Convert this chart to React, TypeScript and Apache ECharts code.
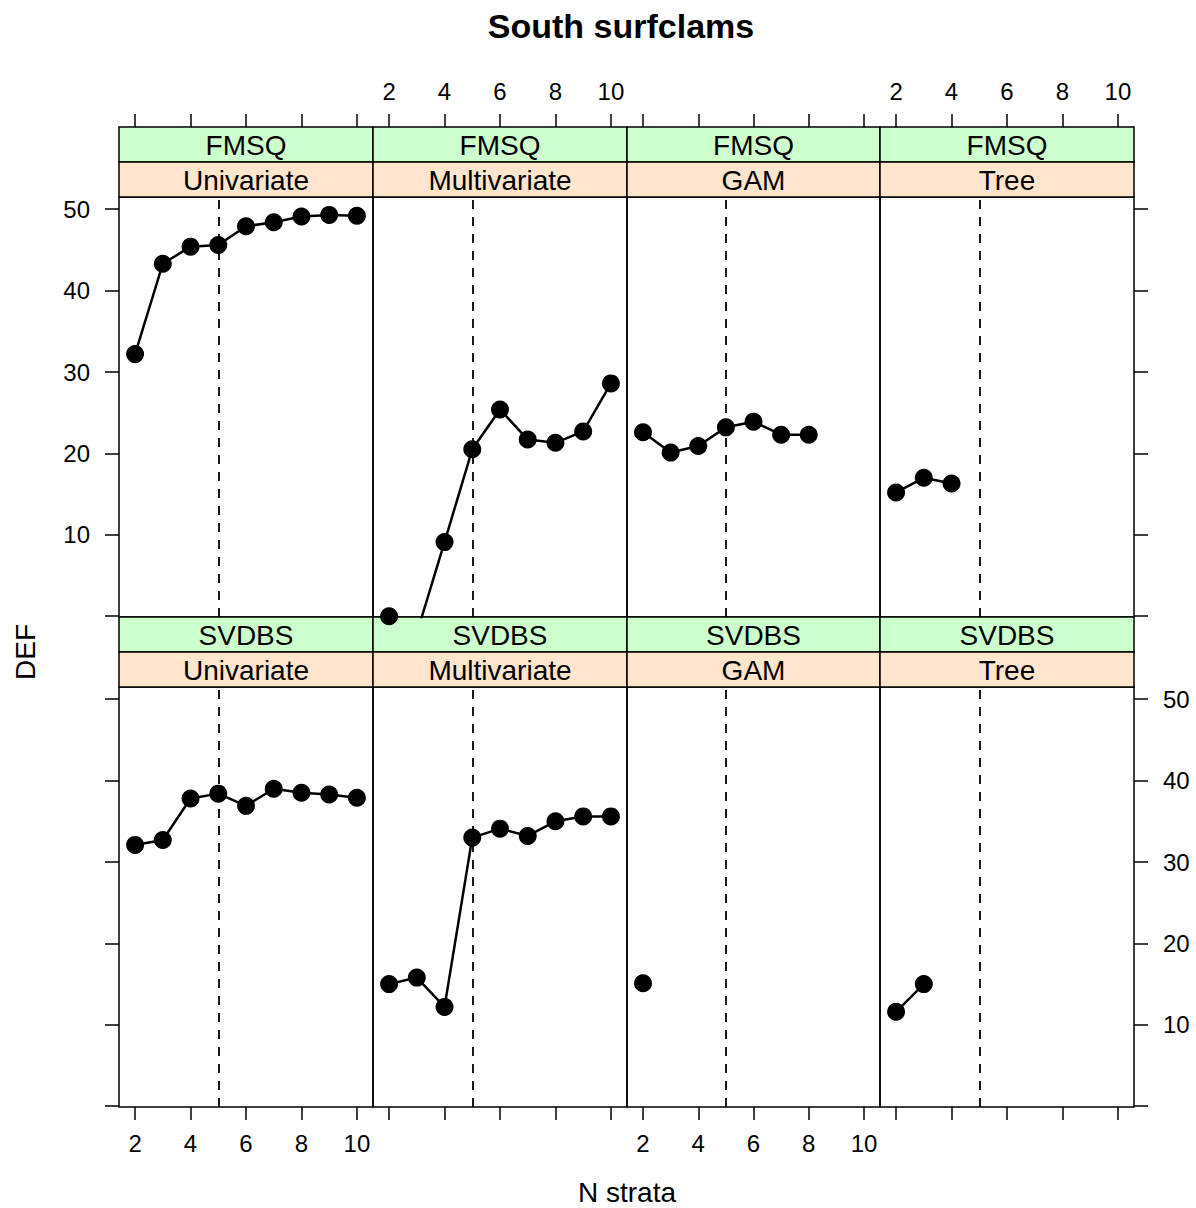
import React, { useEffect, useRef } from "react";
import * as echarts from "echarts";

// ---- data ----
const XS = [2, 3, 4, 5, 6, 7, 8, 9, 10];
const SOURCES = ["FMSQ", "SVDBS"];
const METHODS = ["Univariate", "Multivariate", "GAM", "Tree"];
const X_TICKS = [2, 4, 6, 8, 10];
const Y_TICKS = [0, 10, 20, 30, 40, 50];
const Y_LABELS = [10, 20, 30, 40, 50];
const REF_STRATA = 5;

const fmsqUnivariate = [32.2, 43.3, 45.4, 45.6, 47.9, 48.4, 49.1, 49.3, 49.2];
const fmsqMultivariate = [0, -2.1, 9.1, 20.5, 25.4, 21.7, 21.3, 22.7, 28.6];
const fmsqGam = [22.6, 20.1, 20.9, 23.2, 23.9, 22.3, 22.3];
const fmsqTree = [15.2, 17.0, 16.3];
const svdbsUnivariate = [32.1, 32.7, 37.8, 38.4, 36.9, 39.0, 38.5, 38.3, 37.9];
const svdbsMultivariate = [15.0, 15.8, 12.2, 33.0, 34.1, 33.2, 35.0, 35.6, 35.6];
const svdbsGam = [15.1];
const svdbsTree = [11.6, 15.0];

const PANEL_VALUES = [
  [fmsqUnivariate, fmsqMultivariate, fmsqGam, fmsqTree],
  [svdbsUnivariate, svdbsMultivariate, svdbsGam, svdbsTree],
];

// ---- layout ----
const COL_LEFT = [119, 373, 627, 880];
const COL_RIGHT = [373, 627, 880, 1134];
const ROW_STRIP_TOP = [127, 617];
const STRIP_H = 35;
const ROW_PANEL_TOP = [197, 687];
const PANEL_H = 420;
const FONT = "'Liberation Sans', Arial, Helvetica, sans-serif";
const GREEN = "#ccffcc";
const PEACH = "#ffe5cc";

export default function App() {
  const ref = useRef<HTMLDivElement>(null);

  useEffect(() => {
    if (!ref.current) return;
    const chart = echarts.init(ref.current, null, { renderer: "svg" });

    const grids: any[] = [];
    const xAxes: any[] = [];
    const yAxes: any[] = [];
    const series: any[] = [];
    const graphics: any[] = [];

    for (let r = 0; r < 2; r++) {
      for (let c = 0; c < 4; c++) {
        const idx = r * 4 + c;
        grids.push({
          left: COL_LEFT[c],
          top: ROW_PANEL_TOP[r],
          width: COL_RIGHT[c] - COL_LEFT[c],
          height: PANEL_H,
          show: true,
          borderColor: "#000",
          borderWidth: 1.5,
          backgroundColor: "transparent",
          containLabel: false,
        });
        const showXLabel = r === 0 ? c % 2 === 1 : c % 2 === 0;
        xAxes.push({
          type: "value",
          gridIndex: idx,
          min: 1.42,
          max: 10.58,
          position: r === 0 ? "top" : "bottom",
          offset: r === 0 ? ROW_PANEL_TOP[0] - ROW_STRIP_TOP[0] : 0,
          axisLine: { show: false, onZero: false },
          splitLine: { show: false },
          axisTick: {
            show: true,
            length: 13,
            customValues: X_TICKS,
            lineStyle: { color: "#000", width: 1.5 },
          },
          axisLabel: {
            show: showXLabel,
            customValues: X_TICKS,
            margin: 24,
            fontSize: 24,
            color: "#000",
            fontFamily: FONT,
          },
        });
        const yShow = c === 0 || c === 3;
        const showYLabel = (r === 0 && c === 0) || (r === 1 && c === 3);
        yAxes.push({
          type: "value",
          gridIndex: idx,
          min: -0.1,
          max: 51.5,
          show: yShow,
          position: c === 3 ? "right" : "left",
          axisLine: { show: false, onZero: false },
          splitLine: { show: false },
          axisTick: {
            show: true,
            length: 14,
            customValues: Y_TICKS,
            lineStyle: { color: "#000", width: 1.5 },
          },
          axisLabel: {
            show: showYLabel,
            customValues: Y_LABELS,
            margin: 29,
            fontSize: 24,
            color: "#000",
            fontFamily: FONT,
          },
        });
        const vals = PANEL_VALUES[r][c];
        series.push({
          type: "line",
          name: SOURCES[r] + " " + METHODS[c],
          xAxisIndex: idx,
          yAxisIndex: idx,
          data: vals.map((v, i) => [XS[i], v]),
          symbol: "circle",
          symbolSize: 18,
          clip: true,
          itemStyle: { color: "#000" },
          lineStyle: { color: "#000", width: 2.5 },
          markLine: {
            silent: true,
            symbol: ["none", "none"],
            label: { show: false },
            lineStyle: { color: "#000", width: 1.8, type: [9, 8] },
            data: [{ xAxis: REF_STRATA }],
          },
        });

        // strips
        const w = COL_RIGHT[c] - COL_LEFT[c];
        const cx = COL_LEFT[c] + w / 2;
        const st = ROW_STRIP_TOP[r];
        graphics.push({
          type: "rect",
          shape: { x: COL_LEFT[c], y: st, width: w, height: STRIP_H },
          style: { fill: GREEN, stroke: "#000", lineWidth: 1.5 },
        });
        graphics.push({
          type: "rect",
          shape: { x: COL_LEFT[c], y: st + STRIP_H, width: w, height: STRIP_H },
          style: { fill: PEACH, stroke: "#000", lineWidth: 1.5 },
        });
        graphics.push({
          type: "text",
          x: cx,
          y: st + STRIP_H / 2 + 1,
          style: {
            text: SOURCES[r],
            fill: "#000",
            font: `28px ${FONT}`,
            textAlign: "center",
            textVerticalAlign: "middle",
          },
        });
        graphics.push({
          type: "text",
          x: cx,
          y: st + STRIP_H + STRIP_H / 2 + 1,
          style: {
            text: METHODS[c],
            fill: "#000",
            font: `28px ${FONT}`,
            textAlign: "center",
            textVerticalAlign: "middle",
          },
        });
      }
    }

    graphics.push({
      type: "text",
      x: 627,
      y: 1192,
      style: {
        text: "N strata",
        fill: "#000",
        font: `28px ${FONT}`,
        textAlign: "center",
        textVerticalAlign: "middle",
      },
    });
    graphics.push({
      type: "text",
      x: 25,
      y: 652,
      rotation: Math.PI / 2,
      style: {
        text: "DEF",
        fill: "#000",
        font: `28px ${FONT}`,
        textAlign: "center",
        textVerticalAlign: "middle",
      },
    });

    chart.setOption({
      animation: false,
      backgroundColor: "#fff",
      title: {
        text: "South surfclams",
        left: 616,
        top: 4,
        textAlign: "center",
        textStyle: { fontSize: 34, fontWeight: "bold", color: "#000", fontFamily: FONT },
      },
      grid: grids,
      xAxis: xAxes,
      yAxis: yAxes,
      series,
      graphic: graphics,
    });

    return () => chart.dispose();
  }, []);

  return (
    <div
      ref={ref}
      style={{ position: "absolute", left: 0, top: 0, width: 1196, height: 1208 }}
    />
  );
}
